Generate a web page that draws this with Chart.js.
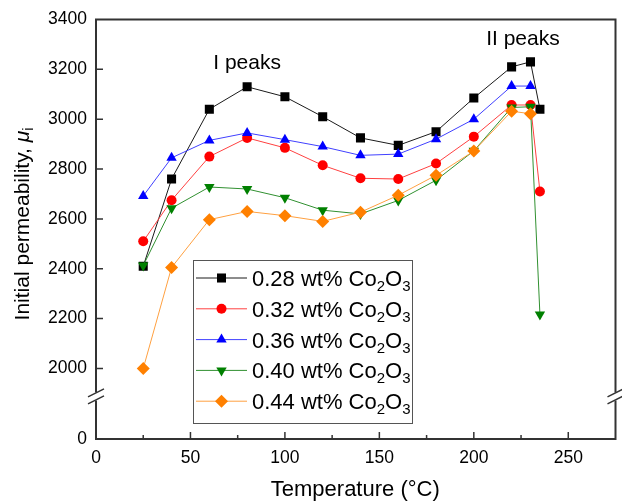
<!DOCTYPE html>
<html>
<head>
<meta charset="utf-8">
<script src="https://cdn.jsdelivr.net/npm/chart.js@4/dist/chart.umd.min.js"></script>
<style>
    html, body { margin: 0; padding: 0; background: #fff; }
    #wrap { width: 622px; height: 503px; position: relative; }
</style>
</head>
<body>
<div id="wrap"><canvas id="chart"></canvas></div>
<script>
// Данные графика
const temps = [25, 40, 60, 80, 100, 120, 140, 160, 180, 200, 220, 230, 235];
const seriesNames = ['0.28', '0.32', '0.36', '0.40', '0.44'];
const mu028 = [2410, 2760, 3040, 3130, 3090, 3010, 2925, 2895, 2950, 3085, 3210, 3230, 3040];
const mu032 = [2510, 2675, 2850, 2925, 2885, 2815, 2763, 2760, 2822, 2930, 3057, 3057, 2710];
const mu036 = [2692, 2845, 2915, 2945, 2918, 2890, 2855, 2860, 2920, 3000, 3133, 3133];
const mu040 = [2413, 2643, 2728, 2720, 2685, 2635, 2620, 2674, 2755, 2873, 3047, 3050, 2216];
const mu044 = [2000, 2405, 2597, 2630, 2613, 2590, 2627, 2695, 2775, 2872, 3032, 3022];

const xTicks = [0, 50, 100, 150, 200, 250];
const xMinorTicks = [25, 75, 125, 175, 225];
const yTicks = [2000, 2200, 2400, 2600, 2800, 3000, 3200, 3400];
// нижняя граница оси после разрыва соответствует подписи "0"
const Y_ZERO = 1717;
const Y_BREAK = 1888;

const FONT = 'Arial, "Liberation Sans", sans-serif';
const styles = [
    { color: '#000000', line: '#1a1a1a', point: 'rect', radius: 6.4, rotation: 0 },
    { color: '#ff0000', line: '#ff4040', point: 'circle', radius: 5, rotation: 0 },
    { color: '#0000ff', line: '#4040ff', point: 'triangle', radius: 6, rotation: 0 },
    { color: '#008000', line: '#309030', point: 'triangle', radius: 6, rotation: 180 },
    { color: '#ff8000', line: '#ffa040', point: 'rectRot', radius: 6.5, rotation: 0 }
];
const allValues = [mu028, mu032, mu036, mu040, mu044];

const datasets = allValues.map((vals, i) => ({
    label: seriesNames[i] + ' wt% Co2O3',
    data: vals.map((v, k) => ({ x: temps[k], y: v })),
    borderColor: styles[i].line,
    backgroundColor: styles[i].color,
    borderWidth: 1,
    pointStyle: styles[i].point,
    pointRadius: styles[i].radius,
    pointRotation: styles[i].rotation,
    pointBorderWidth: 0,
    pointBackgroundColor: styles[i].color,
    tension: 0,
    order: 5 - i
}));

// Рамка, засечки, разрывы оси, подписи и легенда
const decorPlugin = {
    id: 'decor',
    afterDraw(chart) {
        const ctx = chart.ctx;
        const a = chart.chartArea;
        const xs = chart.scales.x, ys = chart.scales.y;
        const by = ys.getPixelForValue(Y_BREAK);
        ctx.save();

        // рамка с разрывом
        ctx.strokeStyle = '#333';
        ctx.lineWidth = 2;
        ctx.beginPath();
        ctx.moveTo(a.left, by - 4); ctx.lineTo(a.left, a.top); ctx.lineTo(a.right, a.top); ctx.lineTo(a.right, by - 4);
        ctx.moveTo(a.left, by + 4); ctx.lineTo(a.left, a.bottom); ctx.lineTo(a.right, a.bottom); ctx.lineTo(a.right, by + 4);
        ctx.stroke();

        ctx.lineWidth = 1.5;
        ctx.beginPath();
        [a.left, a.right].forEach(x0 => {
            [-3.5, 3.5].forEach(d => {
                ctx.moveTo(x0 - 8, by + d + 4);
                ctx.lineTo(x0 + 8, by + d - 4);
            });
        });
        ctx.stroke();

        // засечки внутрь
        ctx.lineWidth = 1.5;
        ctx.beginPath();
        xTicks.forEach(v => {
            const px = xs.getPixelForValue(v);
            ctx.moveTo(px, a.bottom); ctx.lineTo(px, a.bottom - 7);
        });
        xMinorTicks.forEach(v => {
            const px = xs.getPixelForValue(v);
            ctx.moveTo(px, a.bottom); ctx.lineTo(px, a.bottom - 4);
        });
        yTicks.concat([Y_ZERO]).forEach(v => {
            const py = ys.getPixelForValue(v);
            if (v === 3400) return;
            ctx.moveTo(a.left, py); ctx.lineTo(a.left + 7, py);
        });
        ctx.stroke();

        // подписи осей
        ctx.fillStyle = '#000';
        ctx.textAlign = 'center';
        ctx.textBaseline = 'middle';
        ctx.font = '22px ' + FONT;
        ctx.fillText('Temperature (\u00B0C)', (a.left + a.right) / 2 - 0.5, 490);

        ctx.save();
        ctx.translate(21, 224);
        ctx.rotate(-Math.PI / 2);
        const t1 = 'Initial permeability, ';
        ctx.font = '21px ' + FONT;
        const w1 = ctx.measureText(t1).width;
        ctx.font = 'italic 21px ' + FONT;
        const w2 = ctx.measureText('\u03BC').width;
        ctx.font = '14px ' + FONT;
        const w3 = ctx.measureText('i').width;
        let sx = -(w1 + w2 + w3) / 2;
        ctx.textAlign = 'left';
        ctx.textBaseline = 'alphabetic';
        ctx.font = '21px ' + FONT;
        ctx.fillText(t1, sx, 8);
        ctx.font = 'italic 21px ' + FONT;
        ctx.fillText('\u03BC', sx + w1, 8);
        ctx.font = '14px ' + FONT;
        ctx.fillText('i', sx + w1 + w2, 12);
        ctx.restore();

        // аннотации пиков
        ctx.font = '21px ' + FONT;
        ctx.textAlign = 'center';
        ctx.textBaseline = 'alphabetic';
        ctx.fillText('I peaks', xs.getPixelForValue(80), ys.getPixelForValue(3200));
        ctx.fillText('II peaks', xs.getPixelForValue(226), ys.getPixelForValue(3296));

        // легенда
        const lx = 193, ly = 260, lw = 219, lh = 163;
        ctx.fillStyle = '#fff';
        ctx.fillRect(lx, ly, lw, lh);
        ctx.strokeStyle = '#555';
        ctx.lineWidth = 1;
        ctx.strokeRect(lx + 0.5, ly + 0.5, lw, lh);
        styles.forEach((s, i) => {
            const ry = 278 + i * 30.8;
            ctx.strokeStyle = s.line;
            ctx.lineWidth = 1;
            ctx.beginPath();
            ctx.moveTo(196, ry); ctx.lineTo(247, ry);
            ctx.stroke();
            ctx.fillStyle = s.color;
            Chart.helpers.drawPoint(ctx, { pointStyle: s.point, radius: s.radius, rotation: s.rotation, borderWidth: 0 }, 221.5, ry);
            ctx.fillStyle = '#000';
            ctx.textAlign = 'left';
            ctx.textBaseline = 'alphabetic';
            let tx = 252;
            const base = ry + 8;
            const parts = [
                [seriesNames[i] + ' wt% Co', 22, 0],
                ['2', 15, 5],
                ['O', 22, 0],
                ['3', 15, 5]
            ];
            parts.forEach(p => {
                ctx.font = p[1] + 'px ' + FONT;
                ctx.fillText(p[0], tx, base + p[2]);
                tx += ctx.measureText(p[0]).width;
            });
        });

        ctx.restore();
    }
};

new Chart(document.getElementById('chart'), {
    type: 'line',
    data: { datasets: datasets },
    options: {
        responsive: true,
        maintainAspectRatio: false,
        animation: false,
        layout: { padding: { top: 17, right: 4, left: 0, bottom: 0 } },
        plugins: { legend: { display: false }, tooltip: { enabled: false } },
        scales: {
            x: {
                type: 'linear',
                min: 0,
                max: 275,
                afterFit: s => { s.height = 64; },
                afterBuildTicks: s => { s.ticks = xTicks.map(v => ({ value: v })); },
                grid: { display: false, drawTicks: false },
                border: { display: false },
                ticks: { color: '#000', padding: 9, font: { size: 17.5, family: FONT } }
            },
            y: {
                type: 'linear',
                min: Y_ZERO,
                max: 3400,
                afterFit: s => { s.width = 96; },
                afterBuildTicks: s => { s.ticks = [Y_ZERO].concat(yTicks).map(v => ({ value: v })); },
                grid: { display: false, drawTicks: false },
                border: { display: false },
                ticks: {
                    color: '#000',
                    padding: 9,
                    font: { size: 17.5, family: FONT },
                    callback: v => v === Y_ZERO ? '0' : String(v)
                }
            }
        }
    },
    plugins: [decorPlugin]
});
</script>
</body>
</html>
